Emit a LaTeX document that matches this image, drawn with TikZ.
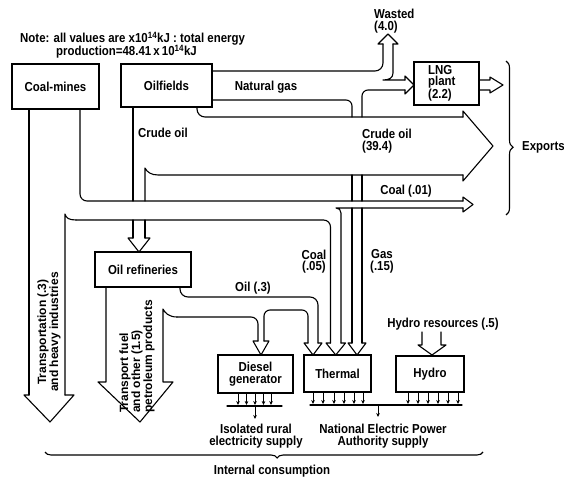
\documentclass[tikz,border=0pt]{standalone}
\usepackage{fontspec}
\setmainfont{Liberation Sans}
\newfontfamily\hfont{Liberation Sans}[FakeStretch=0.88]
\newfontfamily\vfont{Liberation Sans}
\usetikzlibrary{decorations.pathreplacing,arrows.meta}
\tikzset{
  flow/.style={line width=1.1pt, line join=round, line cap=round},
  box/.style={draw, line width=1.3pt, inner sep=0pt},
  lbl/.style={font=\hfont\bfseries\fontsize{13}{11.5}\selectfont, inner sep=0pt},
  vlbl/.style={font=\vfont\bfseries\fontsize{12}{12}\selectfont, inner sep=0pt, rotate=90},
  tick/.style={line width=0.9pt, -{Stealth[length=4pt,width=3.6pt]}},
  bracestyle/.style={line width=1.1pt, decorate},
}
\begin{document}
\begin{tikzpicture}[x=1pt,y=-1pt]
\useasboundingbox (0,0) rectangle (564,478);

% ---------- boxes ----------
\node[box, lbl, minimum width=87, minimum height=45] (coalmines) at (55.5,86.5) {Coal-mines};
\node[box, lbl, minimum width=91, minimum height=43] (oilfields) at (166.5,85.5) {Oilfields};
\node[box, minimum width=65, minimum height=43] (lng) at (446.5,83.5) {};
\node[lbl, align=left, anchor=west] (lngtext) at (428,83.5) {LNG\\plant\\(2.2)};
\node[box, lbl, minimum width=96, minimum height=35] (refin) at (143,269.5) {Oil refineries};
\node[box, lbl, align=center, minimum width=75, minimum height=38] (diesel) at (255.5,374) {Diesel\\generator};
\node[box, lbl, minimum width=67, minimum height=37] (thermal) at (337.5,373.5) {Thermal};
\node[box, lbl, minimum width=68, minimum height=36] (hydro) at (430,374) {Hydro};

% ---------- coal ----------
\draw[flow, rounded corners=7pt] (80,109) -- (80,201) -- (463,201);
\draw[flow] (29,109) -- (29,395);
\draw[flow] (65,395) -- (65,214) .. controls (66,218) and (69,220) .. (76,220);
\draw[flow, rounded corners=7pt] (76,220) -- (330.5,220) -- (330.5,343);
\draw[flow] (341,343) -- (341,213) .. controls (341,210) and (339,208) .. (336,208) -- (463,208);
\draw[flow] (29,395) -- (24,395) -- (50,422) -- (74,395) -- (65,395);
\draw[flow] (330.5,343) -- (326,343) -- (335.75,355) -- (345.5,343) -- (341,343);
\draw[flow] (463,201) -- (463,197) -- (473,204.5) -- (463,212) -- (463,208);

% ---------- crude oil ----------
\draw[flow] (133,107) -- (133,201);
\draw[flow] (133,220) -- (133,238);
\draw[flow] (145,201) -- (145,168) .. controls (147,172) and (151,175) .. (158,175) -- (463,175);
\draw[flow] (145,220) -- (145,238);
\draw[flow] (133,238) -- (128,238) -- (139,252) -- (150,238) -- (145,238);
\draw[flow, rounded corners=8pt] (197,107) -- (197,117) -- (463,117);
\draw[flow] (463,117) -- (463,111) -- (493,146) -- (463,181) -- (463,175);

% ---------- natural gas ----------
\draw[flow, rounded corners=8pt] (212,71) -- (383,71) -- (383,44);
\draw[flow] (383,44) -- (378,44) -- (388,34) -- (398,44) -- (393,44);
\draw[flow] (393,44) -- (393,73) .. controls (393,78) and (389,80) .. (383,80) -- (405,80);
\draw[flow] (405,80) -- (405,76) -- (414,85) -- (405,94) -- (405,90);
\draw[flow, rounded corners=6pt] (405,90) -- (362,90) -- (362,117);
\draw[flow, rounded corners=6pt] (212,100) -- (352,100) -- (352,117);
\draw[flow] (352,175) -- (352,201);
\draw[flow] (362,175) -- (362,201);
\draw[flow] (352,208) -- (352,343);
\draw[flow] (362,208) -- (362,343);
\draw[flow] (352,343) -- (348,343) -- (357,355) -- (366,343) -- (362,343);
\draw[flow] (479,80) -- (490,80) -- (490,77) -- (503,85) -- (490,93) -- (490,90) -- (479,90);

% ---------- oil products ----------
\draw[flow, rounded corners=8pt] (180,287) -- (180,297) -- (318,297) -- (318,343);
\draw[flow] (106,287) -- (106,382) -- (98,382) -- (140,422) -- (173,382) -- (163,382) -- (163,309) .. controls (165,313) and (169,317) .. (177,317);
\draw[flow, rounded corners=7pt] (177,317) -- (258,317) -- (258,341);
\draw[flow, rounded corners=6pt] (264,341) -- (264,310) -- (308,310) -- (308,343);
\draw[flow] (258,341) -- (253,341) -- (261,355) -- (269,341) -- (264,341);
\draw[flow] (308,343) -- (304,343) -- (313,355) -- (322,343) -- (318,343);

% ---------- hydro input ----------
\draw[flow] (422,332) -- (422,345) -- (418,345) -- (432,355) -- (446,345) -- (441,345) -- (441,332);

% ---------- outputs ----------
\foreach \x in {238,246.5,255,263.5,271} \draw[tick] (\x,393) -- (\x,405);
\draw[flow] (227,406) -- (282,406);
\draw[tick] (255,406) -- (255,419);
\foreach \x in {313,323,334,344,354,363} \draw[tick] (\x,392) -- (\x,404);
\foreach \x in {408,418,428,438,448,458} \draw[tick] (\x,392) -- (\x,404);
\draw[flow] (310,405) -- (462,405);
\draw[tick] (378,405) -- (378,417);

% ---------- braces ----------
\draw[bracestyle, decoration={brace, amplitude=7pt, aspect=0.56}] (506,61) -- (506,215);
\draw[bracestyle, decoration={brace, mirror, amplitude=6pt, aspect=0.53}] (45,452) -- (483,452);

% ---------- labels ----------
\node[lbl, anchor=base west] (note1) at (20,43) {Note: all values are x10\textsuperscript{14}kJ : total energy};
\node[lbl, anchor=base west] (note2) at (56,56) {production=48.41\,x\,10\textsuperscript{14}kJ};
\node[lbl] (natgas) at (266,87) {Natural gas};
\node[lbl, anchor=west] (crude1) at (138,133) {Crude oil};
\node[lbl, anchor=west, align=left] (crude2) at (362,141) {Crude oil\\(39.4)};
\node[lbl] (coal01) at (406,191) {Coal (.01)};
\node[lbl, align=center] (coal05) at (314,261.5) {Coal\\(.05)};
\node[lbl, align=center] (gas15) at (382,261.5) {Gas\\(.15)};
\node[lbl] (oil3) at (253,288) {Oil (.3)};
\node[lbl] (hydrores) at (443,324) {Hydro resources (.5)};
\node[lbl, align=left, anchor=west] (wasted) at (374,21) {Wasted\\(4.0)};
\node[lbl, anchor=west] (exports) at (522,147) {Exports};
\node[lbl, align=center] (rural) at (256,436) {Isolated rural\\electricity supply};
\node[lbl, align=center] (nepa) at (383,436) {National Electric Power\\Authority supply};
\node[lbl] (internal) at (272,471) {Internal consumption};
\node[vlbl, align=center] (transp) at (49,332) {Transportation (.3)\\and heavy industries};
\node[vlbl, align=left, anchor=west] (fuel) at (137,413) {Transport fuel\\and other (1.5)\\petroleum products};
\end{tikzpicture}
\end{document}
